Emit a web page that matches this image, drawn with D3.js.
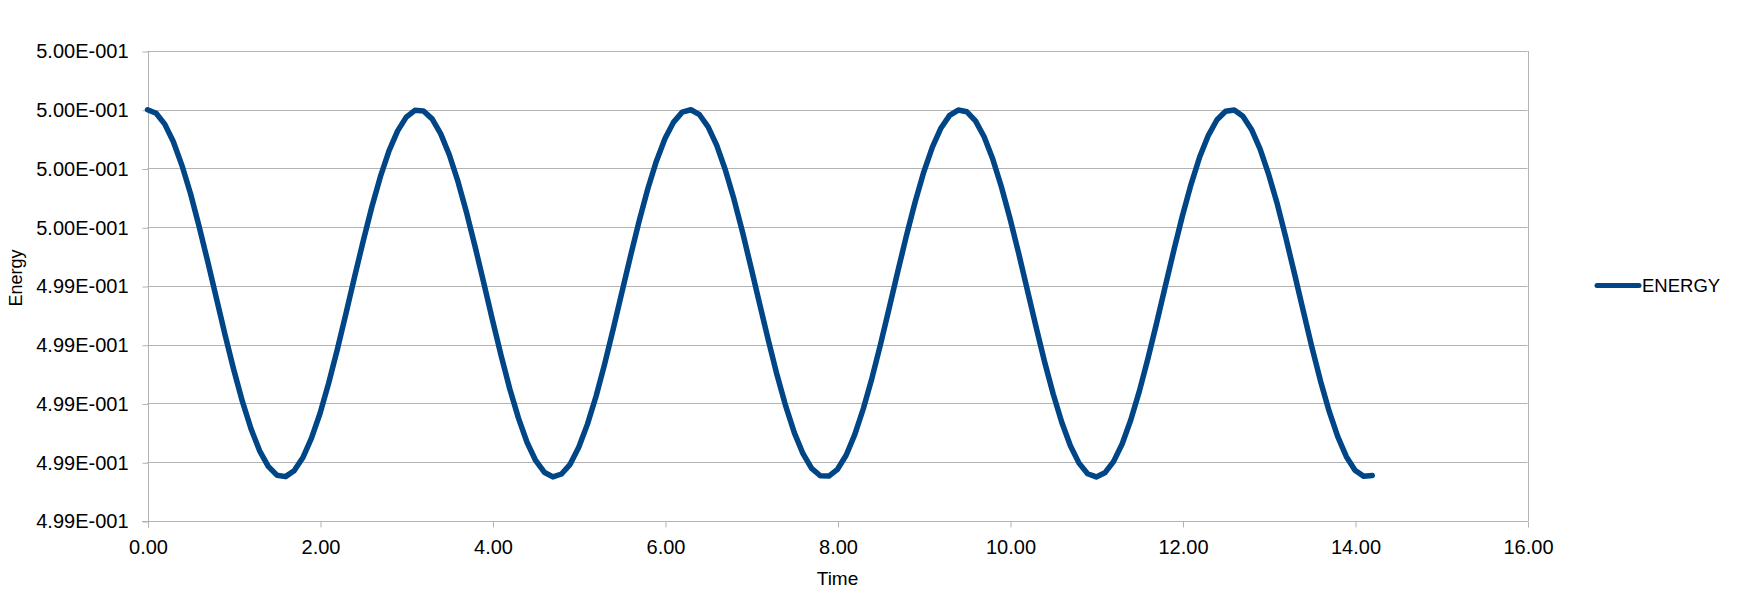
<!DOCTYPE html>
<html>
<head>
<meta charset="utf-8">
<script src="https://cdn.jsdelivr.net/npm/d3@7"></script>
<style>
  html, body { margin: 0; padding: 0; background: #ffffff; }
  svg { display: block; font-family: "Liberation Sans", Arial, sans-serif; }
</style>
</head>
<body>
<svg id="chart" width="1746" height="605"></svg>
<script>
// ---- data ----
const seriesName = "ENERGY";
const xTitle = "Time";
const yTitle = "Energy";

const time = [
  0.0, 0.1, 0.2, 0.3, 0.4, 0.5, 0.6, 0.7, 0.8, 0.9,
  1.0, 1.1, 1.2, 1.3, 1.4, 1.5, 1.6, 1.7, 1.8, 1.9,
  2.0, 2.1, 2.2, 2.3, 2.4, 2.5, 2.6, 2.7, 2.8, 2.9,
  3.0, 3.1, 3.2, 3.3, 3.4, 3.5, 3.6, 3.7, 3.8, 3.9,
  4.0, 4.1, 4.2, 4.3, 4.4, 4.5, 4.6, 4.7, 4.8, 4.9,
  5.0, 5.1, 5.2, 5.3, 5.4, 5.5, 5.6, 5.7, 5.8, 5.9,
  6.0, 6.1, 6.2, 6.3, 6.4, 6.5, 6.6, 6.7, 6.8, 6.9,
  7.0, 7.1, 7.2, 7.3, 7.4, 7.5, 7.6, 7.7, 7.8, 7.9,
  8.0, 8.1, 8.2, 8.3, 8.4, 8.5, 8.6, 8.7, 8.8, 8.9,
  9.0, 9.1, 9.2, 9.3, 9.4, 9.5, 9.6, 9.7, 9.8, 9.9,
  10.0, 10.1, 10.2, 10.3, 10.4, 10.5, 10.6, 10.7, 10.8, 10.9,
  11.0, 11.1, 11.2, 11.3, 11.4, 11.5, 11.6, 11.7, 11.8, 11.9,
  12.0, 12.1, 12.2, 12.3, 12.4, 12.5, 12.6, 12.7, 12.8, 12.9,
  13.0, 13.1, 13.2, 13.3, 13.4, 13.5, 13.6, 13.7, 13.8, 13.9,
  14.0, 14.1, 14.2
];

const energy = [
  0.500000, 0.499988, 0.499951, 0.499891, 0.499810, 0.499713, 0.499601, 0.499481, 0.499357, 0.499233,
  0.499115, 0.499007, 0.498914, 0.498839, 0.498786, 0.498756, 0.498751, 0.498771, 0.498815, 0.498881,
  0.498966, 0.499069, 0.499183, 0.499305, 0.499430, 0.499552, 0.499668, 0.499772, 0.499860, 0.499928,
  0.499975, 0.499998, 0.499996, 0.499969, 0.499918, 0.499846, 0.499755, 0.499649, 0.499532, 0.499409,
  0.499284, 0.499163, 0.499050, 0.498951, 0.498868, 0.498806, 0.498766, 0.498750, 0.498760, 0.498793,
  0.498851, 0.498929, 0.499024, 0.499134, 0.499254, 0.499378, 0.499502, 0.499621, 0.499730, 0.499825,
  0.499902, 0.499958, 0.499992, 0.500000, 0.499983, 0.499942, 0.499879, 0.499795, 0.499695, 0.499582,
  0.499460, 0.499336, 0.499213, 0.499096, 0.498991, 0.498900, 0.498829, 0.498779, 0.498754, 0.498753,
  0.498776, 0.498824, 0.498894, 0.498983, 0.499087, 0.499203, 0.499326, 0.499451, 0.499572, 0.499686,
  0.499788, 0.499873, 0.499938, 0.499981, 0.499999, 0.499993, 0.499962, 0.499908, 0.499832, 0.499738,
  0.499630, 0.499512, 0.499388, 0.499263, 0.499143, 0.499033, 0.498936, 0.498856, 0.498797, 0.498761,
  0.498750, 0.498764, 0.498802, 0.498862, 0.498944, 0.499042, 0.499154, 0.499274, 0.499399, 0.499522,
  0.499640, 0.499747, 0.499840, 0.499913, 0.499966, 0.499995, 0.499999, 0.499978, 0.499933, 0.499866,
  0.499779, 0.499678, 0.499562, 0.499440, 0.499315, 0.499192, 0.499077, 0.498974, 0.498887, 0.498819,
  0.498773, 0.498752, 0.498755
];

const xTicks = [0, 2, 4, 6, 8, 10, 12, 14, 16];
const xTickLabels = ["0.00", "2.00", "4.00", "6.00", "8.00", "10.00", "12.00", "14.00", "16.00"];
const yTicks = [0.4986, 0.4988, 0.4990, 0.4992, 0.4994, 0.4996, 0.4998, 0.5000, 0.5002];
const yTickLabels = ["4.99E-001", "4.99E-001", "4.99E-001", "4.99E-001", "4.99E-001",
                     "5.00E-001", "5.00E-001", "5.00E-001", "5.00E-001"];

// ---- layout ----
const plot = { left: 147.5, right: 1527.5, top: 51, bottom: 521 };
const lineColor = "#004586";
const gridColor = "#b3b3b3";

const svg = d3.select("#chart");

const x = d3.scaleLinear().domain([0, 16]).range([plot.left, plot.right]);
const y = d3.scaleLinear().domain([0.4986, 0.5002]).range([plot.bottom, plot.top]);

// horizontal gridlines
svg.append("g")
  .selectAll("line")
  .data(yTicks)
  .join("line")
  .attr("x1", plot.left)
  .attr("x2", plot.right)
  .attr("y1", d => Math.round(y(d)) + 0.5)
  .attr("y2", d => Math.round(y(d)) + 0.5)
  .attr("stroke", gridColor)
  .attr("stroke-width", 1);

// right border of plot wall
svg.append("line")
  .attr("x1", Math.round(plot.right) + 0.5).attr("x2", Math.round(plot.right) + 0.5)
  .attr("y1", plot.top).attr("y2", plot.bottom)
  .attr("stroke", gridColor).attr("stroke-width", 1);

// Y axis
const yAxis = d3.axisLeft(y)
  .tickValues(yTicks)
  .tickSize(6)
  .tickPadding(14)
  .tickFormat((d, i) => yTickLabels[i]);

const gy = svg.append("g")
  .attr("transform", `translate(${Math.round(plot.left) + 0.5},0.5)`)
  .call(yAxis);
gy.select(".domain").attr("stroke", gridColor).attr("d", `M0,${plot.top - 0.5}V${plot.bottom + 6}`);
gy.selectAll(".tick line").attr("stroke", gridColor);
gy.selectAll(".tick text")
  .attr("font-size", 20)
  .attr("fill", "#000")
  .attr("font-family", "Liberation Sans, Arial, sans-serif");

// X axis
const xAxis = d3.axisBottom(x)
  .tickValues(xTicks)
  .tickSize(6)
  .tickPadding(12)
  .tickFormat((d, i) => xTickLabels[i]);

const gx = svg.append("g")
  .attr("transform", `translate(0.5,${Math.round(plot.bottom) + 0.5})`)
  .call(xAxis);
gx.select(".domain").attr("stroke", gridColor).attr("d", `M${plot.left - 6},0H${plot.right}`);
gx.selectAll(".tick line").attr("stroke", gridColor);
gx.selectAll(".tick text")
  .attr("font-size", 20)
  .attr("fill", "#000")
  .attr("font-family", "Liberation Sans, Arial, sans-serif");

// series line
const pts = time.map((t, i) => [t, energy[i]]);
svg.append("path")
  .datum(pts)
  .attr("fill", "none")
  .attr("stroke", lineColor)
  .attr("stroke-width", 5.5)
  .attr("stroke-linejoin", "round")
  .attr("stroke-linecap", "round")
  .attr("d", d3.line().x(d => x(d[0])).y(d => y(d[1])));

// axis titles
svg.append("text")
  .attr("x", (plot.left + plot.right) / 2)
  .attr("y", 585)
  .attr("text-anchor", "middle")
  .attr("font-size", 19)
  .attr("fill", "#000")
  .text(xTitle);

svg.append("text")
  .attr("transform", `translate(22,278) rotate(-90)`)
  .attr("text-anchor", "middle")
  .attr("font-size", 18)
  .attr("fill", "#000")
  .text(yTitle);

// legend
const legend = svg.append("g");
legend.append("line")
  .attr("x1", 1597).attr("x2", 1639)
  .attr("y1", 285.5).attr("y2", 285.5)
  .attr("stroke", lineColor)
  .attr("stroke-width", 5)
  .attr("stroke-linecap", "round");
legend.append("text")
  .attr("x", 1642)
  .attr("y", 292)
  .attr("font-size", 18.5)
  .attr("fill", "#000")
  .text(seriesName);
</script>
</body>
</html>
